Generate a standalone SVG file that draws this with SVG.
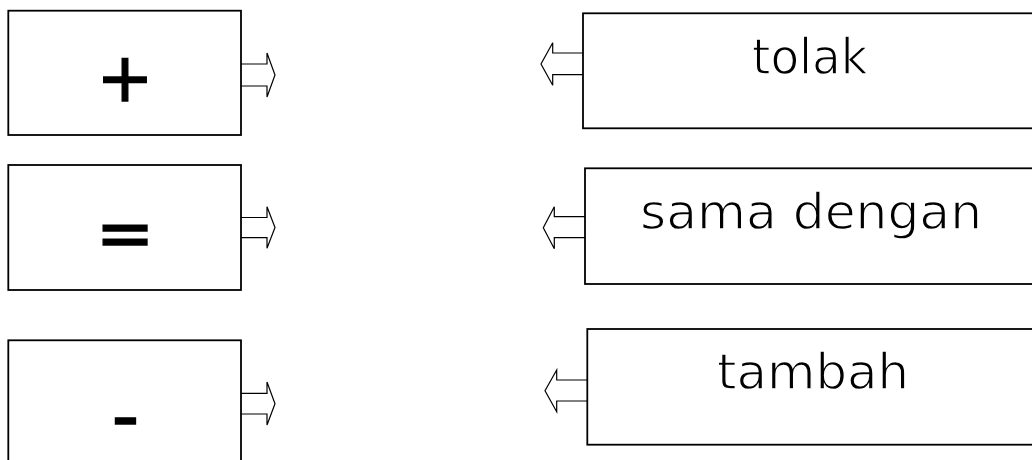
<svg xmlns="http://www.w3.org/2000/svg" width="1032" height="460" viewBox="0 0 1032 460">
<style>
.box{fill:#fff;stroke:#000;stroke-width:1.8}
.arr{fill:#fff;stroke:#000;stroke-width:1.2;stroke-linejoin:miter}
.sym{font-family:"DejaVu Sans",sans-serif;font-size:68px;fill:#000;stroke:#000;stroke-width:1.4;text-anchor:middle}
.lbl{font-family:"DejaVu Sans",sans-serif;font-size:50px;fill:#000;stroke:#fff;stroke-width:1.3}
</style>
<rect width="1032" height="460" fill="#fff"/>
<g id="connectors">
<path class="arr" d="M241,64 H267 V53 L275,75 L267,97 V86 H241"/>
<path class="arr" d="M241,217.5 H267 V206.7 L275,227.5 L267,248.3 V237.7 H241"/>
<path class="arr" d="M241,393.3 H267 V382 L275,403.7 L267,425 V414 H241"/>
<path class="arr" d="M583,53 H552.7 V42.7 L541,64 L552.7,85.3 V74.7 H583"/>
<path class="arr" d="M585,216.7 H554.3 V206.7 L543.3,227.7 L554.3,248.7 V237.7 H585"/>
<path class="arr" d="M587,380 H556.7 V370 L545,390.8 L556.7,411.7 V401 H587"/>
</g>
<g id="node-plus">
<rect class="box" x="8.3" y="10.7" width="232.7" height="124.3"/>
<text class="sym" x="125" y="101">+</text>
</g>
<g id="node-equals">
<rect class="box" x="8.3" y="165" width="232.7" height="125"/>
<text class="sym" x="125" y="257" style="font-size:70px">=</text>
</g>
<g id="node-minus">
<rect class="box" x="8.3" y="340.3" width="232.7" height="130"/>
<text class="sym" x="125.5" y="442" style="font-size:76px">-</text>
</g>
<g id="node-tolak">
<rect class="box" x="583" y="13.3" width="500" height="115"/>
<text class="lbl" x="752" y="74" textLength="116" lengthAdjust="spacingAndGlyphs">tolak</text>
</g>
<g id="node-sama-dengan">
<rect class="box" x="585" y="168.3" width="500" height="115.7"/>
<text class="lbl" x="640" y="229" textLength="342" lengthAdjust="spacingAndGlyphs">sama dengan</text>
</g>
<g id="node-tambah">
<rect class="box" x="587.3" y="329" width="500" height="115.7"/>
<text class="lbl" x="717" y="389.3" textLength="192" lengthAdjust="spacingAndGlyphs">tambah</text>
</g>
</svg>
